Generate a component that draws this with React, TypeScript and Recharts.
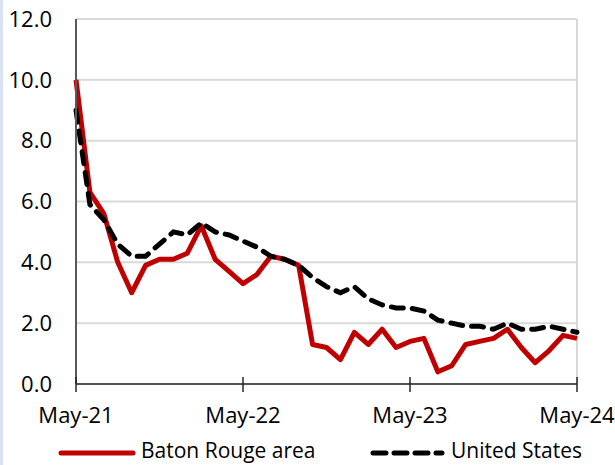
import React from 'react';
import { LineChart, Line, XAxis, YAxis, CartesianGrid, Legend, ReferenceLine } from 'recharts';

const months = [
  'May-21', 'Jun-21', 'Jul-21', 'Aug-21', 'Sep-21', 'Oct-21', 'Nov-21', 'Dec-21',
  'Jan-22', 'Feb-22', 'Mar-22', 'Apr-22', 'May-22', 'Jun-22', 'Jul-22', 'Aug-22', 'Sep-22', 'Oct-22', 'Nov-22', 'Dec-22',
  'Jan-23', 'Feb-23', 'Mar-23', 'Apr-23', 'May-23', 'Jun-23', 'Jul-23', 'Aug-23', 'Sep-23', 'Oct-23', 'Nov-23', 'Dec-23',
  'Jan-24', 'Feb-24', 'Mar-24', 'Apr-24', 'May-24',
];

const batonRouge = [
  10.0, 6.3, 5.6, 4.0, 3.0, 3.9, 4.1, 4.1,
  4.3, 5.2, 4.1, 3.7, 3.3, 3.6, 4.2, 4.1, 3.9, 1.3, 1.2, 0.8,
  1.7, 1.3, 1.8, 1.2, 1.4, 1.5, 0.4, 0.6, 1.3, 1.4, 1.5, 1.8,
  1.2, 0.7, 1.1, 1.6, 1.5,
];

const unitedStates = [
  9.0, 5.9, 5.4, 4.6, 4.2, 4.2, 4.6, 5.0,
  4.9, 5.3, 5.0, 4.9, 4.7, 4.5, 4.2, 4.1, 3.9, 3.5, 3.2, 3.0,
  3.2, 2.8, 2.6, 2.5, 2.5, 2.4, 2.1, 2.0, 1.9, 1.9, 1.8, 2.0,
  1.8, 1.8, 1.9, 1.8, 1.7,
];

const xTicks = ['May-21', 'May-22', 'May-23', 'May-24'];
const yTicks = [0, 2, 4, 6, 8, 10, 12];

const seriesNames = { br: 'Baton Rouge area', us: 'United States' };

const data = months.map((m, i) => ({ month: m, br: batonRouge[i], us: unitedStates[i] }));

const FONT = '"Open Sans", sans-serif';

const XTick = (props: any) => {
  const { x, y, payload } = props;
  return (
    <g>
      <line x1={x} x2={x} y1={y - 7} y2={y + 8} stroke="#262626" strokeWidth={1.5} />
      <text x={x} y={y + 39} textAnchor="middle" fontFamily={FONT} fontSize={22} fill="#000">
        {payload.value}
      </text>
    </g>
  );
};

const LegendContent = () => (
  <div style={{ position: 'relative', width: 615, height: 24, fontFamily: FONT, fontSize: 21, lineHeight: '21px', color: '#000' }}>
    <svg width={80} height={12} style={{ position: 'absolute', left: 57, top: 7 }}>
      <line x1={4} x2={76} y1={6} y2={6} stroke="#C00000" strokeWidth={5} strokeLinecap="round" />
    </svg>
    <span style={{ position: 'absolute', left: 141, top: 0, whiteSpace: 'nowrap' }}>{seriesNames.br}</span>
    <svg width={80} height={12} style={{ position: 'absolute', left: 368, top: 7 }}>
      <line x1={5} x2={74} y1={6} y2={6} stroke="#000" strokeWidth={5} strokeLinecap="round" strokeDasharray="13 8" />
    </svg>
    <span style={{ position: 'absolute', left: 451, top: 0, whiteSpace: 'nowrap' }}>{seriesNames.us}</span>
  </div>
);

export default function App() {
  return (
    <div style={{ position: 'absolute', left: 0, top: 0, width: 615, height: 465, overflow: 'hidden', background: '#fff' }}>
      <div style={{ position: 'absolute', left: 0, top: 0, width: 3, height: 465, background: '#DAE3F3' }} />
      <LineChart width={615} height={465} data={data} margin={{ top: 19, right: 38, left: 0, bottom: 41 }}>
        <CartesianGrid vertical={false} stroke="#D9D9D9" strokeWidth={2} />
        <ReferenceLine x="May-24" stroke="#D9D9D9" strokeWidth={2} />
        <XAxis
          dataKey="month"
          ticks={xTicks}
          interval={0}
          tick={<XTick />}
          tickLine={false}
          tickSize={0}
          tickMargin={0}
          height={40}
          axisLine={{ stroke: '#262626', strokeWidth: 1.5 }}
        />
        <YAxis
          domain={[0, 12]}
          ticks={yTicks}
          width={76}
          tickLine={false}
          tickSize={0}
          tickMargin={24}
          axisLine={{ stroke: '#595959', strokeWidth: 2 }}
          tickFormatter={(v: number) => v.toFixed(1)}
          tick={{ fontFamily: FONT, fontSize: 22, fill: '#000' }}
        />
        <Legend
          layout="horizontal"
          verticalAlign="middle"
          align="center"
          content={<LegendContent />}
          wrapperStyle={{ position: 'absolute', top: 440, left: 0, width: 615 }}
        />
        <Line
          type="linear"
          dataKey="br"
          name={seriesNames.br}
          stroke="#C00000"
          strokeWidth={5}
          dot={false}
          isAnimationActive={false}
          strokeLinejoin="round"
        />
        <Line
          type="linear"
          dataKey="us"
          name={seriesNames.us}
          stroke="#000"
          strokeWidth={5}
          strokeDasharray="12 9"
          strokeLinecap="round"
          dot={false}
          isAnimationActive={false}
        />
      </LineChart>
    </div>
  );
}
